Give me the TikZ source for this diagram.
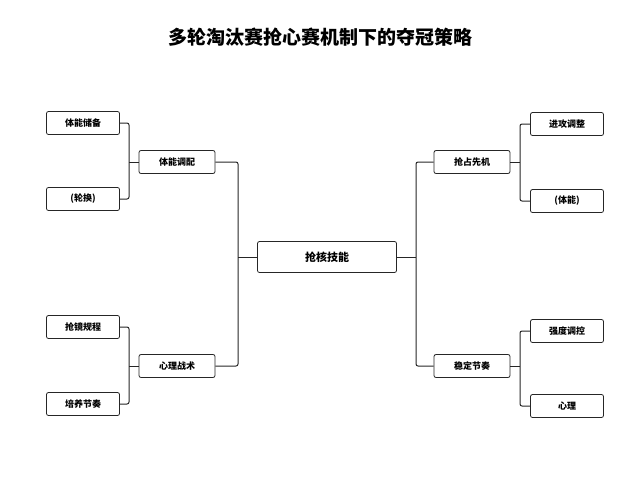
\documentclass[tikz,border=0pt]{standalone}
\usepackage{fontspec}
\newfontfamily\cjk{Noto Sans CJK SC}
\begin{document}
\begin{tikzpicture}[x=1pt,y=-1pt,
  box/.style={draw=black!85,line width=0.8pt,rounded corners=2pt,fill=white,minimum height=23pt,font=\cjk\bfseries\fontsize{9}{10}\selectfont,inner sep=2pt},
  leaf/.style={box,minimum width=73pt},
  mid/.style={box,minimum width=76pt},
  ln/.style={line width=1pt,black!85,rounded corners=2pt}]
\useasboundingbox (0,0) rectangle (640,480);
\node[font=\cjk\bfseries\fontsize{19}{21}\selectfont] (t) at (320,37) {多轮淘汰赛抢心赛机制下的夺冠策略};
\node[box,minimum width=139pt,minimum height=31pt,font=\cjk\bfseries\fontsize{11}{12}\selectfont] (c) at (327,257) {抢核技能};
\node[mid] (lm1) at (177,162) {体能调配};
\node[mid] (lm2) at (177,366) {心理战术};
\node[mid] (rm1) at (472,162) {抢占先机};
\node[mid] (rm2) at (472,366) {稳定节奏};
\node[leaf] (l1) at (83,123) {体能储备};
\node[leaf] (l2) at (83,199) {(轮换)};
\node[leaf] (l3) at (83,327) {抢镜规程};
\node[leaf] (l4) at (83,404) {培养节奏};
\node[leaf] (r1) at (567,124) {进攻调整};
\node[leaf] (r2) at (567,201) {(体能)};
\node[leaf] (r3) at (567,331) {强度调控};
\node[leaf] (r4) at (567,406) {心理};
\draw[ln] (l1.east) -| (129,199) -- (l2.east);
\draw[ln] (129,162) -- (lm1.west);
\draw[ln] (l3.east) -| (129,404) -- (l4.east);
\draw[ln] (129,366) -- (lm2.west);
\draw[ln] (lm1.east) -| (238,366) -- (lm2.east);
\draw[ln] (238,257) -- (c.west);
\draw[ln] (r1.west) -| (520,201) -- (r2.west);
\draw[ln] (520,162) -- (rm1.east);
\draw[ln] (r3.west) -| (520,406) -- (r4.west);
\draw[ln] (520,366) -- (rm2.east);
\draw[ln] (rm1.west) -| (416,366) -- (rm2.west);
\draw[ln] (416,257) -- (c.east);
\end{tikzpicture}
\end{document}
